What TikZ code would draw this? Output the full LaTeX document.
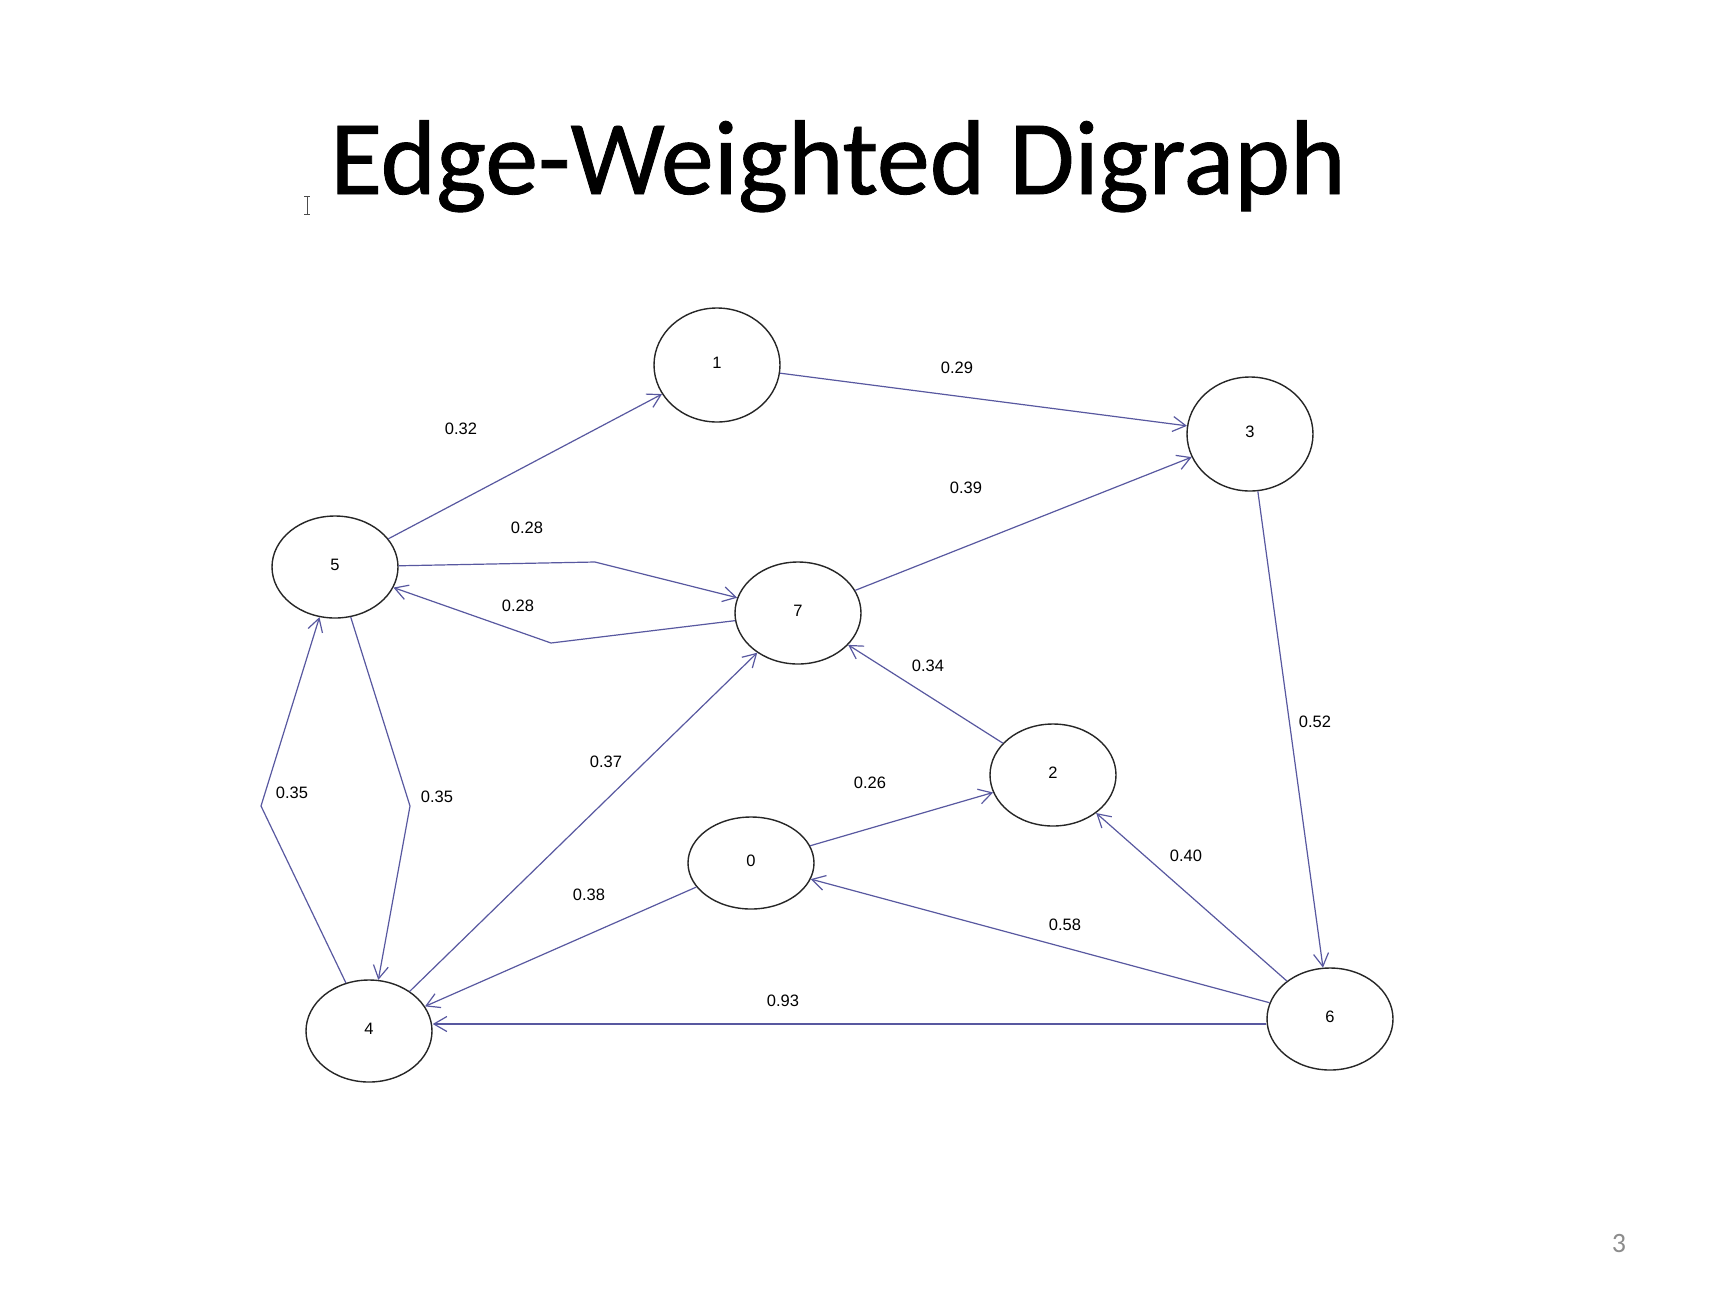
\documentclass[tikz,border=0pt]{standalone}
\usepackage{fontspec}
\setmainfont{Liberation Sans}
\newfontfamily\titlefont{Carlito}[FakeBold=0.8]
\newfontfamily\numfont{Carlito}
\usetikzlibrary{arrows.meta,shapes.geometric}
\definecolor{edgeblue}{RGB}{88,88,160}
\definecolor{pagegray}{RGB}{140,140,140}
\begin{document}
\begin{tikzpicture}[x=1pt,y=-1pt,
  vertex/.style={draw=black!85, line width=1.4pt, ellipse, minimum width=126pt,
    minimum height=#1, inner sep=0pt, fill=white,
    font=\fontsize{16.5}{18}\selectfont},
  vertex/.default=102pt,
  edgeline/.style={draw=edgeblue, line width=1.2pt,
    -{Straight Barb[length=13pt,width=15pt]}},
  elabel/.style={inner sep=0pt, font=\fontsize{16.5}{18}\selectfont}]
\useasboundingbox[fill=white] (0,0) rectangle (1712,1294);

% title
\node[anchor=base, inner sep=0pt, font=\titlefont\fontsize{106}{110}\selectfont]
  (title) at (838,194) {Edge-Weighted Digraph};
% cursor artifact
\draw[black!70, line width=1pt] (304,196) -- (310,196) (307,196) -- (307,214) (304,214) -- (310,214);
% page number
\node[inner sep=0pt, text=pagegray, font=\numfont\fontsize{28}{30}\selectfont]
  (pnum) at (1619,1243) {3};

% vertices
\node[vertex=114pt] (n1) at (717,365) {\raisebox{4pt}{1}};
\node[vertex=114pt] (n3) at (1250,434) {\raisebox{4pt}{3}};
\node[vertex] (n5) at (335,567) {\raisebox{4pt}{5}};
\node[vertex] (n7) at (798,613) {\raisebox{4pt}{7}};
\node[vertex] (n2) at (1053,775) {\raisebox{4pt}{2}};
\node[vertex=92pt] (n0) at (751,863) {\raisebox{4pt}{0}};
\node[vertex] (n4) at (369,1031) {\raisebox{4pt}{4}};
\node[vertex] (n6) at (1330,1019) {\raisebox{4pt}{6}};

% bend points
\coordinate (b57) at (595,562);
\coordinate (b75) at (551,643);
\coordinate (b54) at (410,806);
\coordinate (b45) at (261,806);

% edges
\draw[edgeline] (n5) -- (n1);
\draw[edgeline] (n1) -- (n3);
\draw[edgeline] (n7) -- (n3);
\draw[edgeline] (n5) -- (b57) -- (n7);
\draw[edgeline] (n7) -- (b75) -- (n5);
\draw[edgeline] (n5) -- (b54) -- (n4);
\draw[edgeline] (n4) -- (b45) -- (n5);
\draw[edgeline] (n4) -- (n7);
\draw[edgeline] (n0) -- (n4);
\draw[edgeline] ([yshift=-5pt]n6.west) -- ([yshift=7pt]n4.east);
\draw[edgeline] (n0) -- (n2);
\draw[edgeline] (n2) -- (n7);
\draw[edgeline] (n3) -- (n6);
\draw[edgeline] (n6) -- (n2);
\draw[edgeline] (n6) -- (n0);

% edge labels
\node[elabel] (l51) at (461,429) {0.32};
\node[elabel] (l13) at (957,368) {0.29};
\node[elabel] (l73) at (966,488) {0.39};
\node[elabel] (l57) at (527,528) {0.28};
\node[elabel] (l75) at (518,606) {0.28};
\node[elabel] (l45) at (292,793) {0.35};
\node[elabel] (l54) at (437,797) {0.35};
\node[elabel] (l47) at (606,762) {0.37};
\node[elabel] (l04) at (589,895) {0.38};
\node[elabel] (l64) at (783,1001) {0.93};
\node[elabel] (l02) at (870,783) {0.26};
\node[elabel] (l27) at (928,666) {0.34};
\node[elabel] (l36) at (1315,722) {0.52};
\node[elabel] (l62) at (1186,856) {0.40};
\node[elabel] (l60) at (1065,925) {0.58};
\end{tikzpicture}
\end{document}
